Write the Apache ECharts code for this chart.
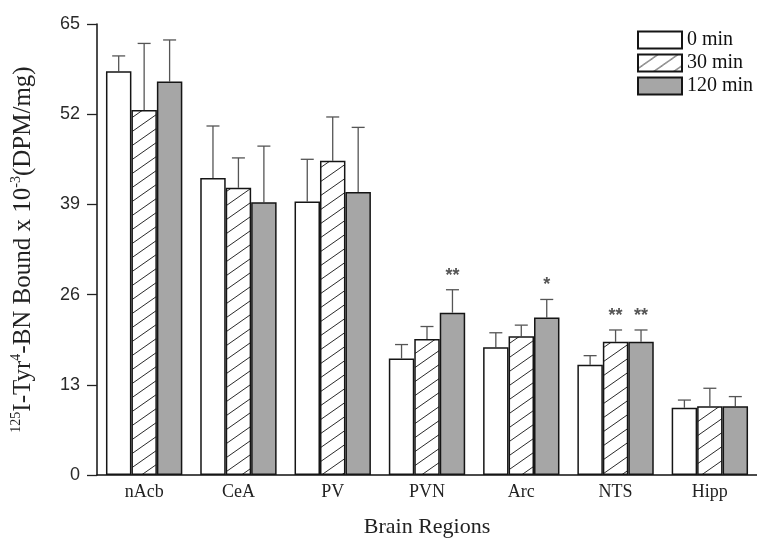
<!DOCTYPE html>
<html>
<head>
<meta charset="utf-8">
<script src="https://cdn.jsdelivr.net/npm/echarts@6/dist/echarts.min.js"></script>
<style>
  html, body { margin: 0; padding: 0; background: #fff; }
  #chart { width: 757px; height: 543px; }
</style>
</head>
<body>
<div id="chart"></div>
<script>
// Brain regions on the x axis
const categories = ['nAcb', 'CeA', 'PV', 'PVN', 'Arc', 'NTS', 'Hipp'];

// Mean binding (x 10^-3 DPM/mg) and SEM for each time point
const mean0   = [58.2, 42.8, 39.4, 16.8, 18.4, 15.9, 9.7];
const err0    = [2.2, 7.5, 6.1, 2.0, 2.1, 1.3, 1.1];
const mean30  = [52.6, 41.4, 45.3, 19.6, 20.0, 19.2, 9.9];
const err30   = [9.6, 4.3, 6.3, 1.8, 1.6, 1.7, 2.6];
const mean120 = [56.7, 39.3, 40.8, 23.4, 22.7, 19.2, 9.9];
const err120  = [6.0, 8.1, 9.3, 3.3, 2.6, 1.7, 1.4];

// Significance marks above the error bars
const sig0   = ['', '', '', '', '', '', ''];
const sig30  = ['', '', '', '', '', '**', ''];
const sig120 = ['', '', '', '**', '*', '**', ''];

// Y axis ticks
const yTicks = [0, 13, 26, 39, 52, 65];

const seriesNames = ['0 min', '30 min', '120 min'];

const SERIF = 'Liberation Serif, Times New Roman, serif';
const SANS = 'Liberation Sans, Arial, sans-serif';

// Diagonal hatch fill for the 30 min bars
function makeHatch() {
  const w = 20, h = 14;
  const c = document.createElement('canvas');
  c.width = w; c.height = h;
  const ctx = c.getContext('2d');
  ctx.fillStyle = '#ffffff';
  ctx.fillRect(0, 0, w, h);
  ctx.strokeStyle = '#2a2a2a';
  ctx.lineWidth = 1;
  for (const dx of [-w, 0, w]) {
    ctx.beginPath();
    ctx.moveTo(dx - 2, h + 2 * h / w);
    ctx.lineTo(dx + w + 2, -2 * h / w);
    ctx.stroke();
  }
  return c;
}

const fills = ['#ffffff', { image: makeHatch(), repeat: 'repeat' }, '#a6a6a6'];
const means = [mean0, mean30, mean120];
const errs = [err0, err30, err120];
const sigs = [sig0, sig30, sig120];
const BAR_FRAC = 0.27;

const barSeries = means.map((m, k) => ({
  name: seriesNames[k],
  type: 'bar',
  data: m,
  barWidth: (BAR_FRAC * 100) + '%',
  barGap: '0%',
  itemStyle: { color: fills[k], borderColor: '#151515', borderWidth: 1.5 },
  emphasis: { disabled: true },
  z: 3
}));

const errSeries = means.map((m, k) => ({
  name: seriesNames[k],
  type: 'custom',
  data: m.map((v, i) => [i, v, errs[k][i]]),
  encode: { x: 0, y: 1 },
  z: 2,
  silent: true,
  renderItem: function (params, api) {
    const i = api.value(0);
    const bw = api.size([1, 0])[0] * BAR_FRAC;
    const off = (k - 1) * bw;
    const base = api.coord([i, api.value(1)]);
    const top = api.coord([i, api.value(1) + api.value(2)]);
    const x = base[0] + off;
    const cap = 6.5;
    const children = [
      { type: 'line', shape: { x1: x, y1: base[1], x2: x, y2: top[1] },
        style: { stroke: '#555', lineWidth: 1.3 } },
      { type: 'line', shape: { x1: x - cap, y1: top[1], x2: x + cap, y2: top[1] },
        style: { stroke: '#555', lineWidth: 1.3 } }
    ];
    const s = sigs[k][params.dataIndex];
    if (s) {
      children.push({
        type: 'text',
        style: {
          text: s, x: x, y: top[1] - 5,
          align: 'center', verticalAlign: 'bottom',
          fontFamily: SANS, fontSize: 18, fontWeight: 'bold',
          fill: '#555'
        }
      });
    }
    return { type: 'group', children: children };
  }
}));

const chart = echarts.init(document.getElementById('chart'));
chart.setOption({
  animation: false,
  backgroundColor: '#ffffff',
  grid: { left: 97, top: 24, right: -8.5, bottom: 63.5, containLabel: false },
  legend: {
    data: seriesNames,
    orient: 'vertical',
    left: 632,
    top: 25,
    itemWidth: 44,
    itemHeight: 17,
    itemGap: 3,
    icon: 'rect',
    selectedMode: false,
    textStyle: { fontFamily: SERIF, fontSize: 20, color: '#111' }
  },
  xAxis: {
    type: 'category',
    data: categories,
    axisLine: { lineStyle: { color: '#111', width: 1.5 } },
    axisTick: { show: false },
    axisLabel: { margin: 8, fontFamily: SERIF, fontSize: 18, color: '#222' },
    name: 'Brain Regions',
    nameLocation: 'middle',
    nameGap: 41,
    nameTextStyle: { fontFamily: SERIF, fontSize: 22, color: '#222' }
  },
  yAxis: {
    type: 'value',
    min: yTicks[0],
    max: yTicks[yTicks.length - 1],
    interval: yTicks[1] - yTicks[0],
    splitLine: { show: false },
    axisLine: { show: true, lineStyle: { color: '#111', width: 1.5 } },
    axisTick: { show: true, length: 10, lineStyle: { color: '#222', width: 1.3 } },
    axisLabel: { margin: 17, fontFamily: SANS, fontSize: 18, color: '#2a2a2a' },
    name: '{sup|125}{b|I-Tyr}{sup|4}{b|-BN Bound x 10}{sup|-3}{b|(DPM/mg)}',
    nameLocation: 'middle',
    nameGap: 60,
    nameTextStyle: {
      rich: {
        b: { fontFamily: SERIF, fontSize: 25, lineHeight: 28, color: '#222' },
        sup: { fontFamily: SERIF, fontSize: 14, lineHeight: 14, verticalAlign: 'top', color: '#222' }
      }
    }
  },
  series: [...barSeries, ...errSeries]
});
</script>
</body>
</html>
